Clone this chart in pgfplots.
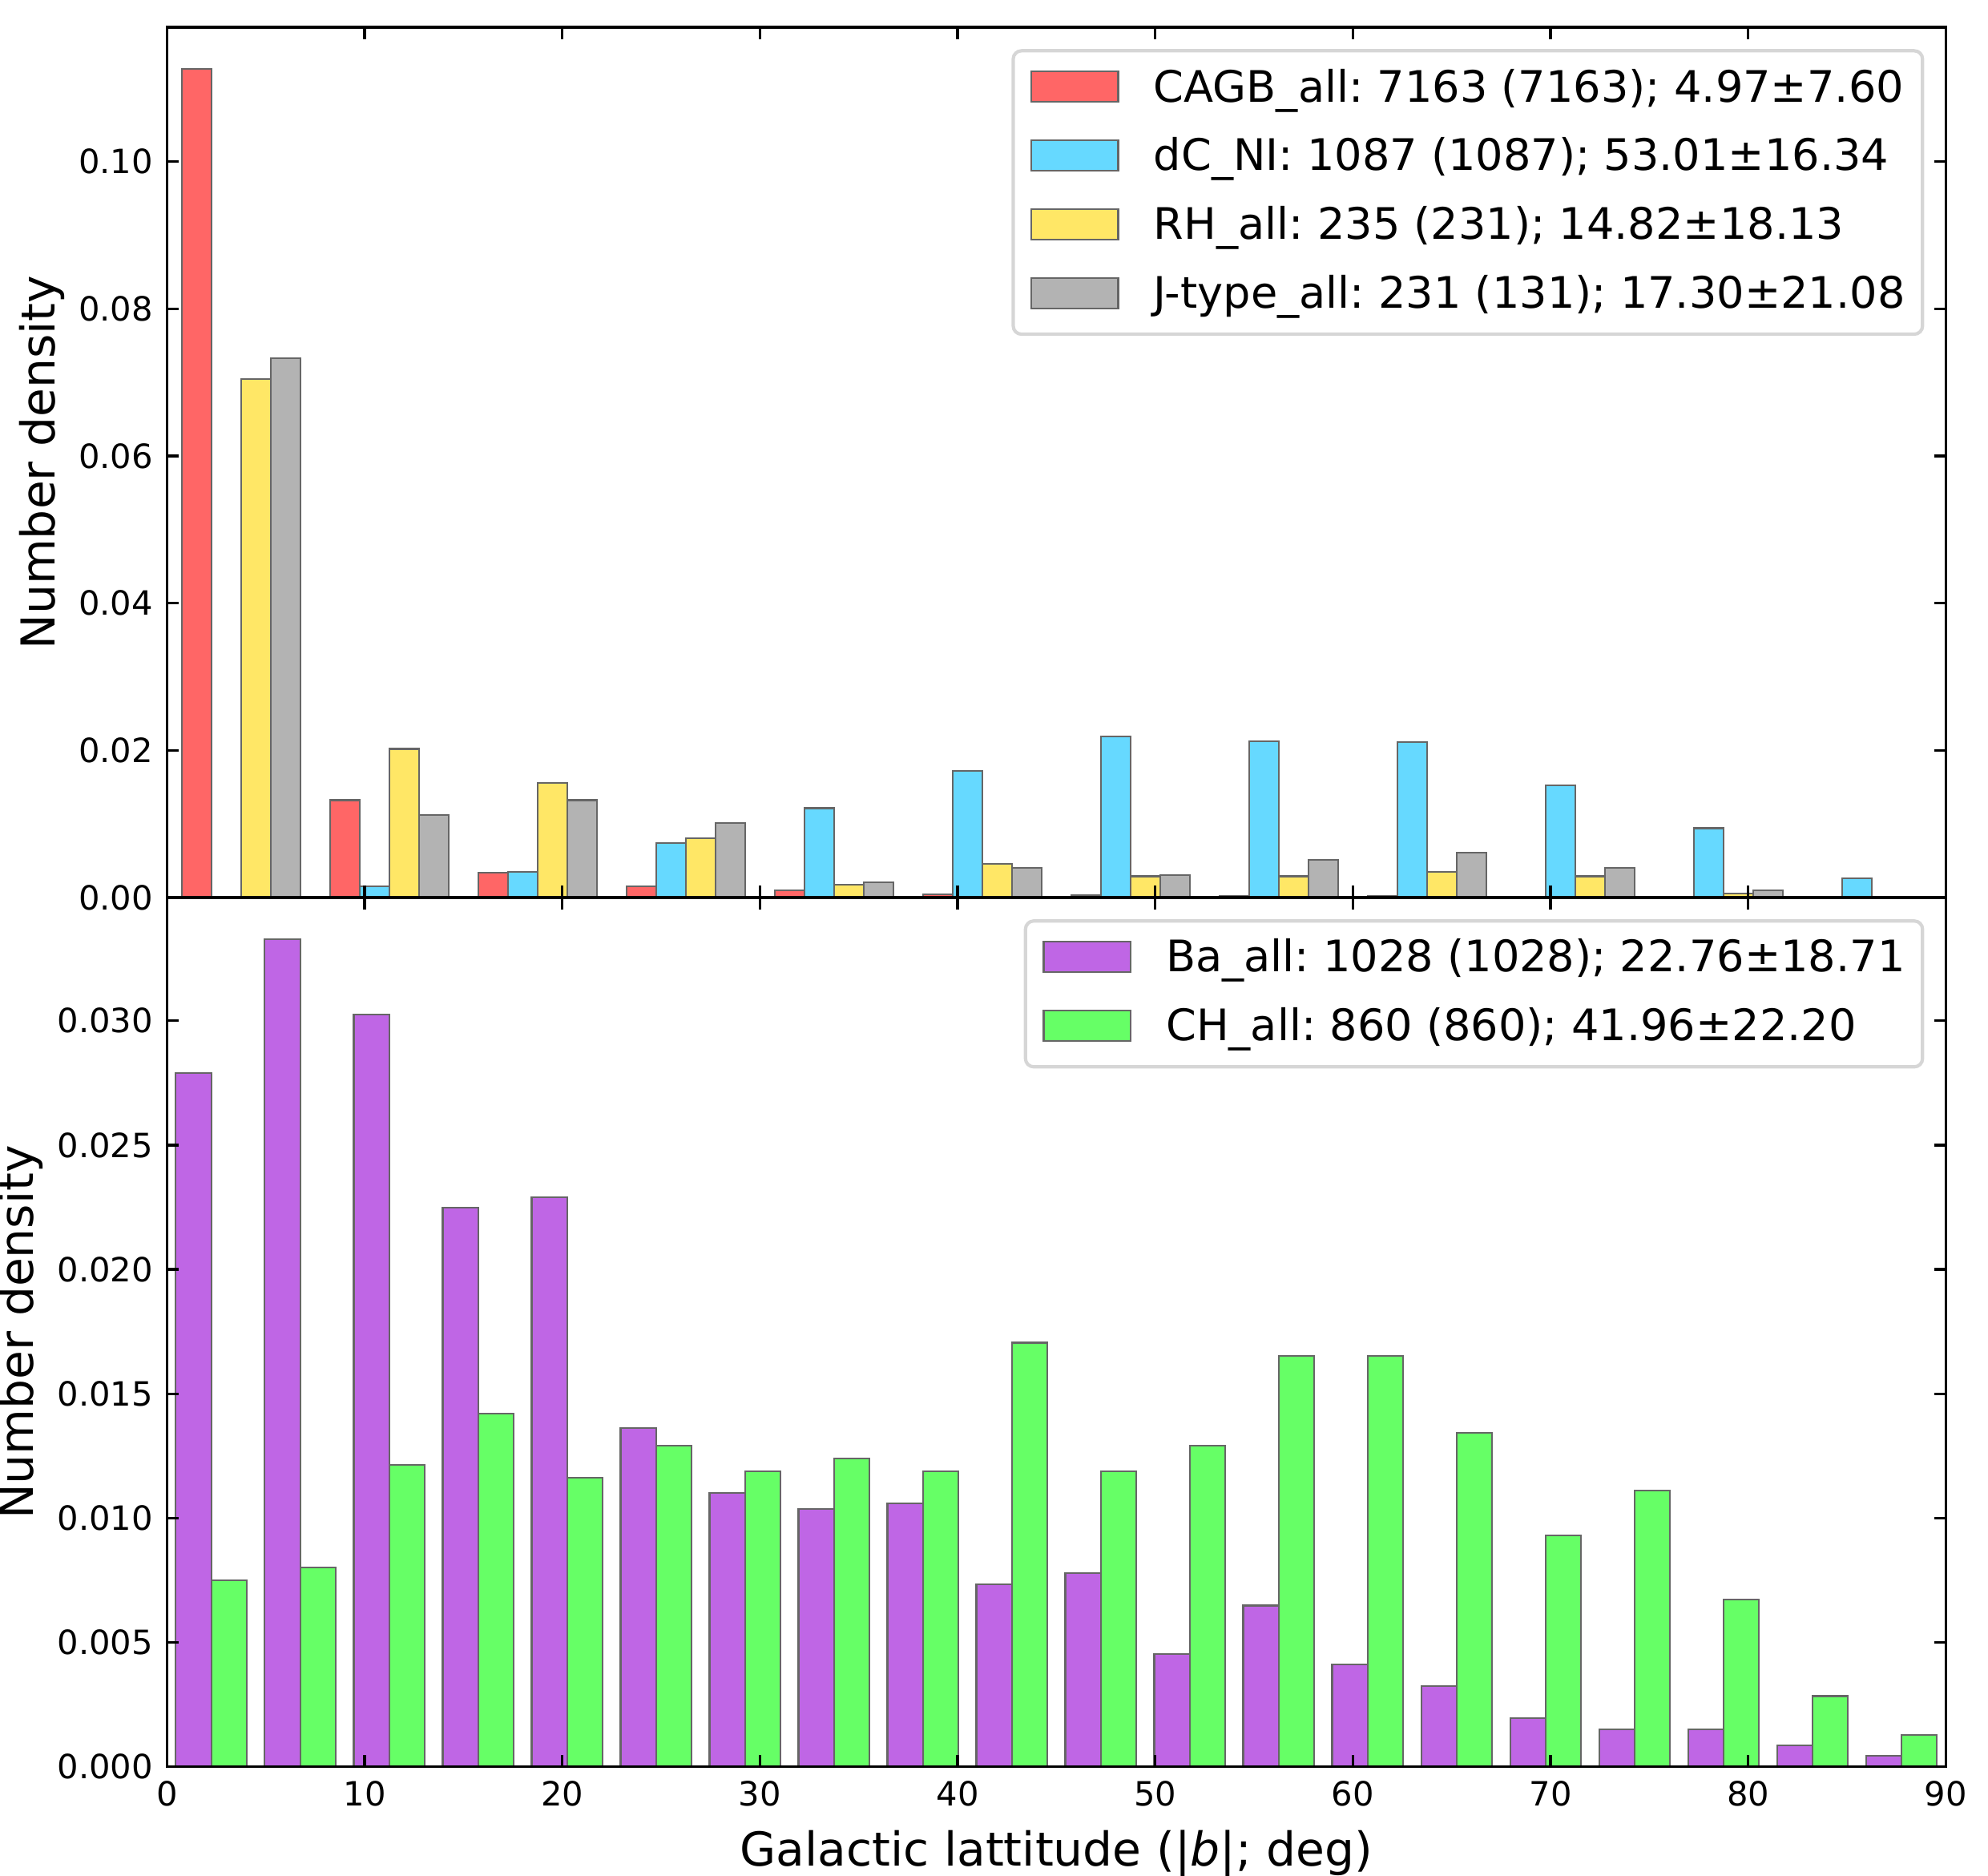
\documentclass[border=0pt]{standalone}
\usepackage{fontspec}
\setmainfont{DejaVu Sans}
\usepackage{pgfplots}
\pgfplotsset{compat=1.18}
\frenchspacing
\definecolor{cRed}{RGB}{255,102,102}
\definecolor{cBlue}{RGB}{102,217,255}
\definecolor{cYellow}{RGB}{255,231,102}
\definecolor{cGrey}{RGB}{179,179,179}
\definecolor{cPurple}{RGB}{191,102,229}
\definecolor{cGreen}{RGB}{102,255,102}
\definecolor{cEdge}{RGB}{102,102,102}
\definecolor{cFrame}{RGB}{214,214,214}
\pgfplotsset{
 mystyle/.style={
  scale only axis, width=532.8pt,
  xmin=0, xmax=90, ymin=0,
  xtick={0,10,20,30,40,50,60,70,80,90},
  axis on top,
  axis line style={line width=0.8pt},
  every tick/.style={black, line width=0.8pt},
  major tick length=3.5pt,
  tick label style={font=\fontsize{10}{12}\selectfont, inner sep=0pt},
  ticklabel shift=4pt,
  /pgf/number format/assume math mode=true,
  scaled y ticks=false,
  y tick label style={/pgf/number format/fixed, /pgf/number format/fixed zerofill},
  label style={font=\fontsize{14}{16.8}\selectfont},
  ylabel style={inner sep=4pt},
  xlabel style={inner sep=7pt},
  ylabel={Number density},
  legend cell align=left,
  legend style={at={(1,1)}, anchor=north east, xshift=-6.5pt, yshift=-6.5pt,
    draw=cFrame, line width=1pt, rounded corners=2.5pt,
    font=\fontsize{13}{15.6}\selectfont, inner xsep=5.2pt, inner ysep=1.25pt,
    row sep=0pt, column sep=10.4pt,
    nodes={inner sep=0pt, outer sep=0pt, text height=14.05pt, text depth=6.55pt}},
  every axis plot/.append style={ybar, bar width=1.5, bar shift=0pt, draw=cEdge, line width=0.5pt,
    legend image code/.code={\draw[##1, line width=0.5pt, sharp corners] (0pt,-3.75pt) rectangle (26pt,5.35pt);}},
 }
}
\begin{document}
\begin{tikzpicture}
\useasboundingbox (0,0) rectangle (595.4pt,561.6pt);
% ---------------- top panel ----------------
\begin{axis}[mystyle, at={(50pt,292.8pt)}, anchor=south west, height=260.6pt,
  ymax=0.11823, ytick={0,0.02,0.04,0.06,0.08,0.10},
  yticklabel style={/pgf/number format/precision=2},
  xticklabels={}]
\addplot[fill=cRed] table {
x y
1.5 0.1126
9 0.01323
16.5 0.00336
24 0.00153
31.5 0.000945
39 0.000473
46.5 0.000364
54 0.000255
61.5 0.000255
69 0.00007
76.5 0.00015
84 0.00004
};
\addlegendentry{CAGB\_all: 7163 (7163); 4.97±7.60}
\addplot[fill=cBlue] table {
x y
10.5 0.00153
18 0.00344
25.5 0.00742
33 0.012145
40.5 0.017164
48 0.021855
55.5 0.0212
63 0.02109
70.5 0.0152
78 0.009418
85.5 0.002618
};
\addlegendentry{dC\_NI: 1087 (1087); 53.01±16.34}
\addplot[fill=cYellow] table {
x y
4.5 0.070418
12 0.020202
19.5 0.015584
27 0.008081
34.5 0.001732
42 0.004618
49.5 0.002886
57 0.002886
64.5 0.003463
72 0.002886
79.5 0.000577
};
\addlegendentry{RH\_all: 235 (231); 14.82±18.13}
\addplot[fill=cGrey] table {
x y
6 0.073282
13.5 0.011196
21 0.013232
28.5 0.010178
36 0.002036
43.5 0.004071
51 0.003053
58.5 0.005089
66 0.006107
73.5 0.004071
81 0.001018
};
\addlegendentry{J-type\_all: 231 (131); 17.30±21.08}
\end{axis}
% ---------------- bottom panel ----------------
\begin{axis}[mystyle, at={(50pt,32.5pt)}, anchor=south west, height=260.3pt,
  ymax=0.034955, ytick={0,0.005,0.010,0.015,0.020,0.025,0.030},
  yticklabel style={/pgf/number format/precision=3},
  xlabel={Galactic lattitude (|\textit{b}|; deg)},
  every axis plot/.append style={bar width=1.8}]
\addplot[fill=cPurple] table {
x y
1.35 0.027886
5.85 0.03329
10.35 0.030264
14.85 0.022482
19.35 0.022914
23.85 0.013619
28.35 0.011025
32.85 0.010376
37.35 0.010592
41.85 0.00735
46.35 0.007782
50.85 0.00454
55.35 0.006485
59.85 0.004107
64.35 0.003243
68.85 0.001946
73.35 0.001513
77.85 0.001513
82.35 0.000865
86.85 0.000432
};
\addlegendentry{Ba\_all: 1028 (1028); 22.76±18.71}
\addplot[fill=cGreen] table {
x y
3.15 0.007494
7.65 0.00801
12.15 0.012145
16.65 0.014212
21.15 0.011628
25.65 0.01292
30.15 0.011886
34.65 0.012403
39.15 0.011886
43.65 0.017054
48.15 0.011886
52.65 0.01292
57.15 0.016537
61.65 0.016537
66.15 0.013437
70.65 0.009302
75.15 0.011111
79.65 0.006718
84.15 0.002842
88.65 0.001292
};
\addlegendentry{CH\_all: 860 (860); 41.96±22.20}
\end{axis}
\end{tikzpicture}
\end{document}
